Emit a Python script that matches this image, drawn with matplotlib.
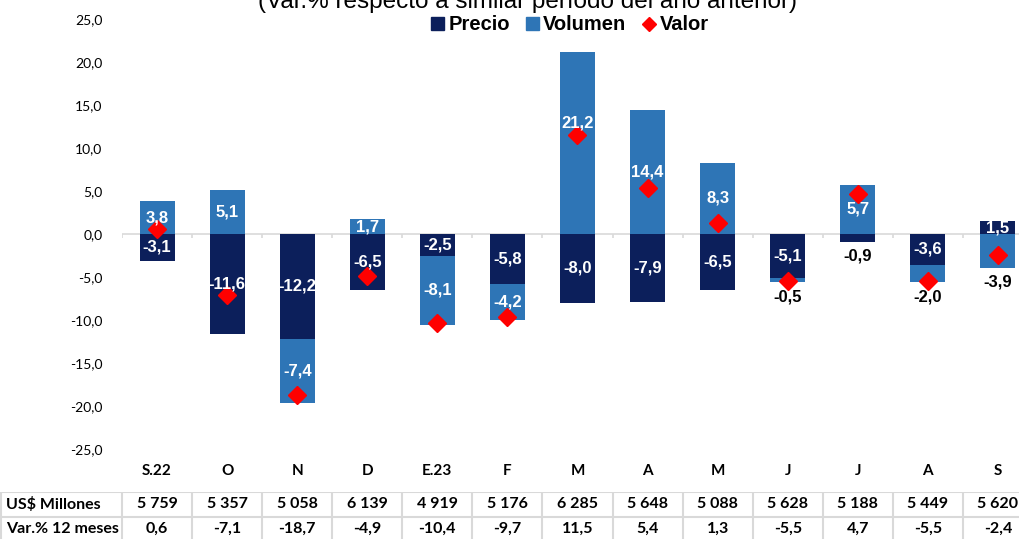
import numpy as np
import matplotlib.pyplot as plt
from matplotlib.patches import Patch
from matplotlib.lines import Line2D
from matplotlib.ticker import FuncFormatter

meses = ['S.22', 'O', 'N', 'D', 'E.23', 'F', 'M', 'A', 'M', 'J', 'J', 'A', 'S']
precio = [-3.1, -11.6, -12.2, -6.5, -2.5, -5.8, -8.0, -7.9, -6.5, -5.1, -0.9, -3.6, 1.5]
volumen = [3.8, 5.1, -7.4, 1.7, -8.1, -4.2, 21.2, 14.4, 8.3, -0.5, 5.7, -2.0, -3.9]
valor = [0.6, -7.1, -18.7, -4.9, -10.4, -9.7, 11.5, 5.4, 1.3, -5.5, 4.7, -5.5, -2.4]
millones = ['5 759', '5 357', '5 058', '6 139', '4 919', '5 176', '6 285',
            '5 648', '5 088', '5 628', '5 188', '5 449', '5 620']
var12 = [0.6, -7.1, -18.7, -4.9, -10.4, -9.7, 11.5, 5.4, 1.3, -5.5, 4.7, -5.5, -2.4]

# labels drawn outside (below) the bar, as in the original
precio_fuera = {10}
volumen_fuera = {9, 11, 12}
# label moved up a bit so it does not sit on the diamond
volumen_subir = {6: 2.3}

C_PRECIO = '#0c1f5b'
C_VOL = '#2e75b6'
C_VALOR = '#ff0000'
GRIS = '#d9d9d9'


def coma(v, pos=None):
    return f'{v:.1f}'.replace('.', ',')


def draw_chart():
    W, H = 1020, 539
    fig = plt.figure(figsize=(W / 100, H / 100), dpi=100)
    paso = 70.08
    ax = fig.add_axes([122 / W, (H - 449) / H, 911 / W, 430 / H])
    x = np.arange(len(meses))
    p = np.array(precio)
    v = np.array(volumen)

    ax.bar(x, p, 0.5, color=C_PRECIO, zorder=2)
    base_v = np.where(np.sign(v) == np.sign(p), p, 0)
    ax.bar(x, v, 0.5, bottom=base_v, color=C_VOL, zorder=2)
    ax.plot(x, valor, 'D', color=C_VALOR, markersize=9, ls='none', zorder=4)

    fondo = np.minimum(0, p) + np.minimum(0, v)
    for i in x:
        for val, bot, fuera, subir in ((p[i], 0, precio_fuera, {}),
                                       (v[i], base_v[i], volumen_fuera, volumen_subir)):
            if i in fuera:
                ax.annotate(coma(val), (i, fondo[i]), xytext=(0, -5), textcoords='offset points',
                            ha='center', va='top', color='black', fontsize=12,
                            fontweight='bold', family='Liberation Sans', zorder=5)
            else:
                ax.text(i, bot + val / 2 + subir.get(i, 0), coma(val), ha='center', va='center',
                        color='white', fontsize=12, fontweight='bold',
                        family='Liberation Sans', zorder=5)

    ax.axhline(0, color=GRIS, lw=1.2, zorder=1)
    ax.vlines(np.arange(-0.5, len(meses)), -0.5, 0, color=GRIS, lw=1.2, zorder=1)

    ax.set_xlim(-0.5, len(meses) - 0.5)
    ax.set_ylim(-25, 25)
    ax.set_yticks(np.arange(-25, 26, 5))
    ax.yaxis.set_major_formatter(FuncFormatter(coma))
    ax.set_xticks(x, meses)
    ax.tick_params(axis='y', length=0, pad=14, labelsize=10)
    ax.tick_params(axis='x', length=0, pad=11, labelsize=11)
    for t in ax.get_yticklabels():
        t.set_family('Lato')
    for t in ax.get_xticklabels():
        t.set_family('Lato')
        t.set_fontweight('bold')
    for s in ax.spines.values():
        s.set_visible(False)

    # table under the chart
    x0 = -0.5 - 122 / paso
    tb = fig.add_axes([0, (H - 541) / H, 1033 / W, 49 / H])
    tb.set_xlim(x0, len(meses) - 0.5)
    tb.set_ylim(2, 0)
    tb.axis('off')
    tb.hlines([0, 1, 2], x0, len(meses) - 0.5, color=GRIS, lw=1.5)
    tb.vlines(np.r_[x0 + 0.015, np.arange(-0.5, len(meses))], 0, 2, color=GRIS, lw=1.5)
    for fila, nombre in enumerate(['US$ Millones', 'Var.% 12 meses']):
        tb.text(x0 + 6 / paso, fila + 0.5, nombre, ha='left', va='center',
                fontsize=11.5, fontweight='bold', family='Lato')
    for i in x:
        tb.text(i, 0.5, millones[i], ha='center', va='center', fontsize=11.5,
                fontweight='bold', family='Lato')
        tb.text(i, 1.5, coma(var12[i]), ha='center', va='center', fontsize=11.5,
                fontweight='bold', family='Lato')

    fig.text(527 / W, 1 - 8 / H, '(Var.% respecto a similar período del año anterior)',
             ha='center', va='baseline', fontsize=17.5, family='Liberation Sans')

    handles = [Patch(color=C_PRECIO), Patch(color=C_VOL),
               Line2D([], [], marker='D', color=C_VALOR, ls='none', markersize=7)]
    fig.legend(handles, ['Precio', 'Volumen', 'Valor'], loc='center',
               bbox_to_anchor=(570 / W, 1 - 25 / H), ncol=3, frameon=False,
               handlelength=0.65, handleheight=0.65, handletextpad=0.2, columnspacing=0.8,
               prop={'family': ['Liberation Sans Narrow', 'Liberation Sans'],
                     'weight': 'bold', 'size': 14.5})

    fig.savefig('out.png', dpi=100)


if __name__ == "__main__":
    draw_chart()
